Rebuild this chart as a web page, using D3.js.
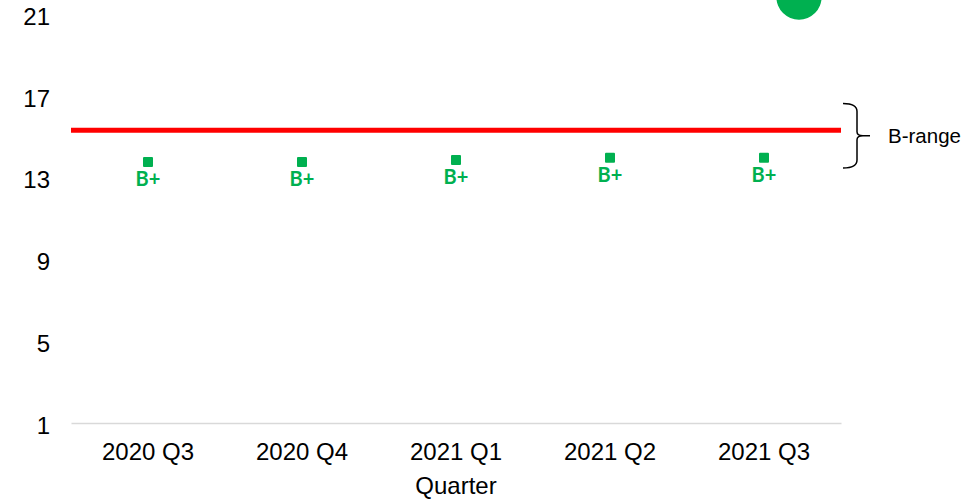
<!DOCTYPE html>
<html>
<head>
<meta charset="utf-8">
<script src="https://cdn.jsdelivr.net/npm/d3@7"></script>
<style>
  body { margin: 0; background: #fff; }
  text { font-family: "Liberation Sans", Arial, sans-serif; }
</style>
</head>
<body>
<svg class="chart" width="979" height="500"></svg>
<script>
const quarters = ['2020 Q3', '2020 Q4', '2021 Q1', '2021 Q2', '2021 Q3'];
const scores = [13.75, 13.75, 13.85, 13.95, 13.95];
const grades = ['B+', 'B+', 'B+', 'B+', 'B+'];
const yTicks = [1, 5, 9, 13, 17, 21];
const threshold = 15.3;
const bRange = [13.45, 16.6];
const badgeValue = 21.8;

const svg = d3.select('.chart');
const green = '#00b050';

const x = d3.scaleBand().domain(quarters).range([71, 841]);
const y = d3.scaleLinear().domain([1, 21]).range([423, 13.5]);

// y axis labels only
const yAxis = svg.append('g')
  .attr('transform', 'translate(50,3)')
  .call(d3.axisLeft(y).tickValues(yTicks).tickSize(0).tickPadding(0));
yAxis.select('.domain').remove();
yAxis.selectAll('text')
  .attr('font-family', '"Liberation Sans", Arial, sans-serif')
  .attr('font-size', 24)
  .attr('fill', '#000');

// x axis
const xAxis = svg.append('g')
  .attr('transform', `translate(0,${y(1)})`)
  .call(d3.axisBottom(x).tickSize(0).tickPadding(20));
xAxis.select('.domain').attr('stroke', '#d9d9d9').attr('stroke-width', 1.5);
xAxis.selectAll('text')
  .attr('font-family', '"Liberation Sans", Arial, sans-serif')
  .attr('font-size', 24)
  .attr('fill', '#000');

svg.append('text')
  .attr('x', (x.range()[0] + x.range()[1]) / 2)
  .attr('y', 494)
  .attr('text-anchor', 'middle')
  .attr('font-size', 24)
  .text('Quarter');

// threshold line
svg.append('line')
  .attr('x1', x.range()[0]).attr('x2', x.range()[1])
  .attr('y1', y(threshold)).attr('y2', y(threshold))
  .attr('stroke', '#ff0000')
  .attr('stroke-width', 5);

// markers
const cx = d => x(d) + x.bandwidth() / 2;
svg.selectAll('rect.pt')
  .data(quarters)
  .enter().append('rect')
    .attr('class', 'pt')
    .attr('x', d => cx(d) - 5)
    .attr('y', (d, i) => y(scores[i]) - 5)
    .attr('width', 10).attr('height', 10)
    .attr('rx', 1)
    .attr('fill', green);

svg.selectAll('text.grade')
  .data(quarters)
  .enter().append('text')
    .attr('class', 'grade')
    .attr('x', d => cx(d))
    .attr('y', (d, i) => y(scores[i]) + 24)
    .attr('text-anchor', 'middle')
    .style('font-family', 'Lato, "Open Sans", sans-serif')
    .attr('font-weight', 'bold')
    .attr('font-size', 20)
    .attr('fill', green)
    .text((d, i) => grades[i]);

// badge circle peeking from the top
svg.append('circle')
  .attr('cx', cx(quarters[4]) + 35)
  .attr('cy', y(badgeValue))
  .attr('r', 22.6)
  .attr('fill', green);

// brace for the B range
const yt = y(bRange[1]), yb = y(bRange[0]), ym = (yt + yb) / 2;
const bx = 857;
svg.append('path')
  .attr('d', `M843,${yt} Q${bx},${yt} ${bx},${yt + 8} L${bx},${ym - 4} Q${bx},${ym} ${bx + 6},${ym} L870,${ym}
              M${bx + 6},${ym} Q${bx},${ym} ${bx},${ym + 4} L${bx},${yb - 8} Q${bx},${yb} 843,${yb}`)
  .attr('fill', 'none')
  .attr('stroke', '#000')
  .attr('stroke-width', 1.5);

svg.append('text')
  .attr('x', 888)
  .attr('y', ym + 7)
  .attr('font-size', 20.5)
  .text('B-range');
</script>
</body>
</html>
